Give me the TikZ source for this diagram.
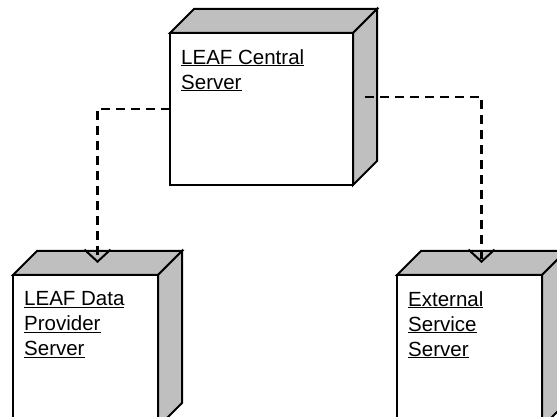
\documentclass[tikz,border=0pt]{standalone}
\usepackage{fontspec}
\setmainfont{Liberation Sans}
\usetikzlibrary{arrows.meta,calc}

\tikzset{
  front/.style={draw, fill=white, line width=2pt, outer sep=0pt,
    inner sep=0pt, minimum height=152pt, anchor=north west},
  face/.style={draw, fill=black!25, line width=2pt, line join=miter},
  srvtext/.style={anchor=north west, align=left, inner sep=0pt,
    font=\fontsize{20.5}{25}\selectfont},
  depend/.style={line width=2.2pt, dash pattern=on 9pt off 6pt,
    -{Straight Barb[length=12pt,width=26pt,line width=2pt]}}
}

% server box: name, north west corner, width, text
\newcommand{\server}[4]{%
  \node[front, minimum width=#3] (#1) at #2 {};
  \draw[face] (#1.north west) -- ++(24pt,24pt) -- ($(#1.north east)+(24pt,24pt)$)
    -- (#1.north east) -- cycle;
  \draw[face] (#1.north east) -- ++(24pt,24pt) -- ($(#1.south east)+(24pt,24pt)$)
    -- (#1.south east) -- cycle;
  \coordinate (#1 top) at ($(#1.north)+(12pt,12pt)$);
  \coordinate (#1 side) at ($(#1.east)+(12pt,12pt)$);
  \node[srvtext] (#1 label) at ($(#1.north west)+(11pt,-16pt)$) {#4};
}

\begin{document}
\begin{tikzpicture}[x=1pt,y=1pt]
  \useasboundingbox (0,0) rectangle (557,417);
  \clip (0,0) rectangle (557,417);
  % Nodes
  \server{central}{(170,384)}{183pt}{\underline{LEAF Central}\\\underline{Server}}
  \server{provider}{(13,142)}{145pt}{\underline{LEAF Data}\\\underline{Provider}\\\underline{Server}}
  \server{external}{(397,142)}{145pt}{\underline{External}\\\underline{Service}\\\underline{Server}}
  % Edges
  \draw[depend] (central.west) -| (provider top);
  \draw[depend] (central side) -| (external top);
\end{tikzpicture}
\end{document}
